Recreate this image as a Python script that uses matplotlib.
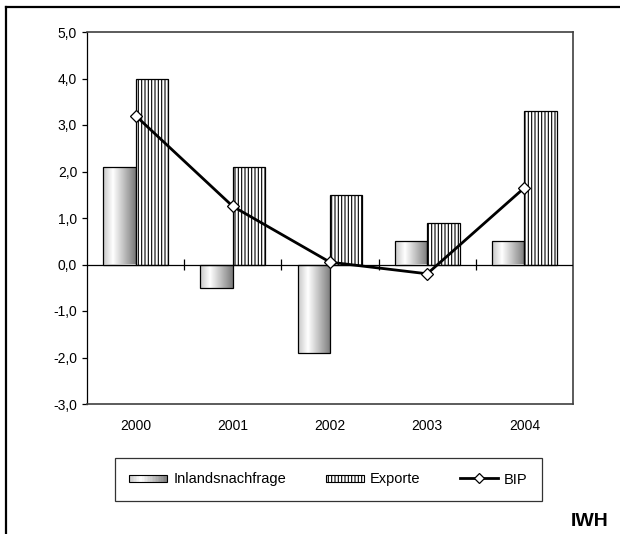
import numpy as np
import matplotlib
matplotlib.use('Agg')
import matplotlib.pyplot as plt
from matplotlib.patches import Rectangle
from matplotlib.lines import Line2D
from matplotlib.legend_handler import HandlerBase
from matplotlib.ticker import FuncFormatter

plt.rcParams.update({
    "font.family": ["Liberation Sans", "DejaVu Sans"],
    "font.size": 10,
    "hatch.linewidth": 0.8,
})

# Data
years = ["2000", "2001", "2002", "2003", "2004"]
inland = [2.1, -0.5, -1.9, 0.5, 0.5]
exporte = [4.0, 2.1, 1.5, 0.9, 3.3]
bip = [3.2, 1.25, 0.05, -0.2, 1.65]
y_ticks = [-3, -2, -1, 0, 1, 2, 3, 4, 5]

# grey - white - dark grey, left to right
grad_stops = [0.0, 0.3, 1.0]
grad_vals = [0.78, 1.0, 0.48]
grad = np.interp(np.linspace(0, 1, 64), grad_stops, grad_vals)
grad_img = np.tile(grad, (2, 1))

fig = plt.figure(figsize=(6.2, 5.34), dpi=100)
ax = fig.add_axes([87 / 620, 1 - 404 / 534, (573 - 87) / 620, (404 - 32) / 534])

x = np.arange(len(years)) + 0.5
w = 1 / 3

bars_in = ax.bar(x - w / 2, inland, width=w, facecolor='none',
                 edgecolor='black', linewidth=0.9, zorder=3)
for b in bars_in:
    x0, y0 = b.get_x(), b.get_y()
    x1, y1 = x0 + b.get_width(), y0 + b.get_height()
    im = ax.imshow(grad_img, cmap='gray', vmin=0, vmax=1, aspect='auto',
                   extent=[x0, x1, min(y0, y1), max(y0, y1)],
                   interpolation='bilinear', zorder=2)
    im.set_clip_path(b)

ax.bar(x + w / 2, exporte, width=w, facecolor='white', edgecolor='black',
       hatch='|||||', linewidth=0.9, zorder=3)

ax.plot(x, bip, color='black', lw=2.0, marker='D', markersize=6.5,
        markerfacecolor='white', markeredgecolor='black', markeredgewidth=0.9,
        zorder=5)

# zero line with category separators
ax.axhline(0, color='black', lw=0.9, zorder=4)
ax.vlines(np.arange(1, len(years)), -0.12, 0.12, color='black', lw=0.9, zorder=4)

ax.set_xlim(0, len(years))
ax.set_ylim(-3, 5)
ax.set_yticks(y_ticks)
ax.yaxis.set_major_formatter(FuncFormatter(lambda v, p: f"{v:.1f}".replace('.', ',')))
ax.set_xticks(x)
ax.set_xticklabels(years)
ax.tick_params(axis='x', length=0, pad=11)
ax.tick_params(axis='y', direction='out', length=3.6, width=0.9, pad=3.5)

for s in ['top', 'right', 'bottom']:
    ax.spines[s].set_color('#404040')
    ax.spines[s].set_linewidth(1.2)
ax.spines['left'].set_color('black')
ax.spines['left'].set_linewidth(0.9)


class GradientHandler(HandlerBase):
    def create_artists(self, legend, orig_handle, xdescent, ydescent,
                       width, height, fontsize, trans):
        n = 24
        arts = []
        hh = height * 0.65
        yb = -ydescent + (height - hh) / 2
        for i in range(n):
            g = np.interp((i + 0.5) / n, grad_stops, grad_vals)
            r = Rectangle((-xdescent + i * width / n, yb), width / n, hh,
                          facecolor=str(g), edgecolor='none', transform=trans)
            arts.append(r)
        arts.append(Rectangle((-xdescent, yb), width, hh, facecolor='none',
                              edgecolor='black', lw=0.8, transform=trans))
        return arts


class HatchHandler(HandlerBase):
    def create_artists(self, legend, orig_handle, xdescent, ydescent,
                       width, height, fontsize, trans):
        hh = height * 0.65
        yb = -ydescent + (height - hh) / 2
        r = Rectangle((-xdescent, yb), width, hh, facecolor='white',
                      edgecolor='black', hatch='|||||', lw=0.8, transform=trans)
        return [r]


h_in = Rectangle((0, 0), 1, 1)
h_ex = Rectangle((0, 0), 1, 1, hatch='|||||')
h_bip = Line2D([], [], color='black', lw=2.0, marker='D', markersize=5,
               markerfacecolor='white', markeredgecolor='black', markeredgewidth=0.9)

leg = fig.legend([h_in, h_ex, h_bip], ["Inlandsnachfrage", "Exporte", "BIP"],
                 handler_map={h_in: GradientHandler(), h_ex: HatchHandler()},
                 ncol=3, loc='center',
                 bbox_to_anchor=((116 + 541) / 2 / 620, 1 - 479.5 / 534),
                 frameon=True, fancybox=False, edgecolor='black',
                 handlelength=2.6, handletextpad=0.43, columnspacing=2.7,
                 borderpad=1.0, borderaxespad=0, fontsize=10.5)
leg.get_frame().set_linewidth(0.9)

# outer frame (top and left only)
fig.add_artist(Line2D([6 / 620, 1], [1 - 7 / 534, 1 - 7 / 534],
                      transform=fig.transFigure, color='black', lw=1.6))
fig.add_artist(Line2D([6 / 620, 6 / 620], [0, 1 - 7 / 534],
                      transform=fig.transFigure, color='black', lw=1.6))

fig.text(590 / 620, 1 - 521 / 534, "IWH", fontsize=14, fontweight='bold',
         ha='center', va='center')

fig.savefig('out.png', dpi=100)
